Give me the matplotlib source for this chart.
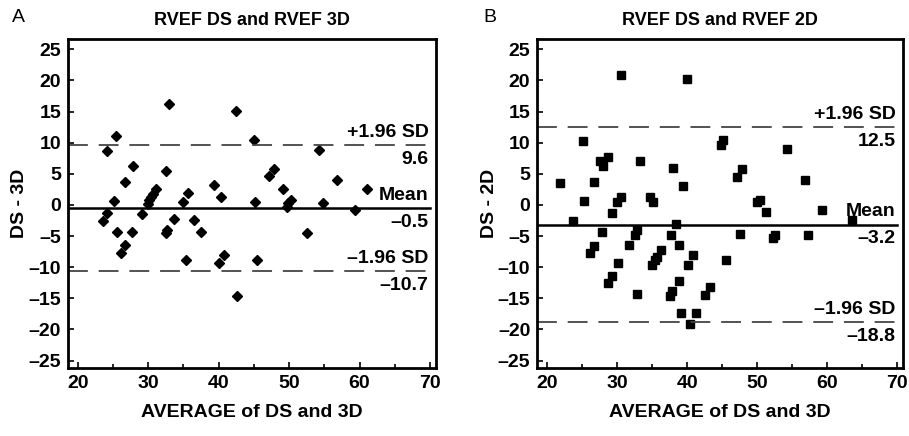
import matplotlib
matplotlib.use("Agg")
import matplotlib.pyplot as plt
from matplotlib.ticker import MultipleLocator

# panel A: RVEF DS vs 3D (average, difference)
a_avg = [23.5, 24.1, 24.1, 25.4, 25.2, 25.6, 26.1, 26.7, 26.7, 27.8, 27.7, 29.1,
         29.9, 30.1, 30.4, 30.6, 31.1, 32.5, 32.9, 32.5, 32.7, 33.6, 35.0, 35.7,
         35.4, 36.5, 37.5, 39.4, 40.3, 40.0, 40.8, 42.4, 42.6, 45.0, 45.2, 45.4,
         47.1, 47.8, 49.1, 49.7, 49.9, 50.2, 52.5, 54.3, 54.8, 56.8, 59.3, 61.1]
a_diff = [-2.6, -1.3, 8.7, 11.1, 0.6, -4.4, -7.7, -6.4, 3.7, 6.2, -4.3, -1.4,
          0.2, 0.8, 1.3, 1.8, 2.6, 5.4, 16.2, -4.5, -4.0, -2.3, 0.5, 1.9,
          -8.9, -2.4, -4.4, 3.2, 1.2, -9.4, -8.0, 15.1, -14.6, 10.4, 0.5, -8.8,
          4.6, 5.8, 2.5, -0.3, 0.3, 0.8, -4.5, 8.8, 0.3, 4.0, -0.9, 2.6]
a_mean, a_hi, a_lo = -0.5, 9.6, -10.7

# panel B: RVEF DS vs 2D
b_avg = [21.8, 23.7, 25.2, 25.3, 26.2, 26.7, 26.7, 27.6, 28.0, 28.7, 27.8, 28.7,
         29.3, 29.3, 30.0, 30.5, 30.2, 30.5, 31.7, 32.6, 32.9, 32.8, 33.3, 34.7,
         35.1, 35.0, 35.4, 35.7, 36.3, 37.7, 38.4, 38.0, 37.6, 37.9, 38.9, 38.9,
         39.1, 39.4, 40.0, 40.1, 40.9, 40.4, 41.3, 42.6, 43.3, 44.8, 45.1, 45.5,
         47.1, 47.8, 47.6, 50.0, 50.4, 51.3, 52.2, 52.5, 54.3, 56.8, 57.3, 59.3, 63.6]
b_diff = [3.5, -2.6, 10.2, 0.6, -7.7, -6.6, 3.6, 7.1, 6.2, 7.7, -4.3, -12.6,
          -11.5, -1.3, 0.5, 1.2, -9.4, 20.9, -6.4, -4.8, -4.0, -14.3, 7.0, 1.3,
          0.4, -9.6, -8.8, -8.3, -7.3, -4.8, -3.1, 6.0, -14.7, -13.9, -6.4, -12.3,
          -17.4, 3.1, 20.2, -9.6, -8.0, -19.1, -17.4, -14.5, -13.2, 9.6, 10.4, -8.9,
          4.5, 5.7, -4.6, 0.5, 0.8, -1.1, -5.4, -4.8, 9.0, 4.0, -4.8, -0.9, -2.4]
b_mean, b_hi, b_lo = -3.2, 12.5, -18.8

plt.rcParams.update({"font.family": ["Liberation Sans", "DejaVu Sans"], "font.size": 13,
                     "font.weight": "bold", "axes.titleweight": "bold",
                     "axes.labelweight": "bold"})

fig = plt.figure(figsize=(9.09, 4.36), dpi=100)
axA = fig.add_axes([0.0748, 0.156, 0.4048, 0.7546])
axB = fig.add_axes([0.591, 0.156, 0.4026, 0.7546])


def bland(ax, x, y, mean, hi, lo, marker, ms, title, ylab):
    ax.plot(x, y, marker, color="black", ms=ms, ls="none")
    ax.plot([18.6, 70], [mean, mean], color="black", lw=1.8)
    for v in (hi, lo):
        ax.plot([18.6, 70], [v, v], color="#444444", lw=1.3, dashes=(11, 6))
    tk = dict(ha="right", fontsize=14)
    ax.text(69.8, hi + 0.7, "+1.96 SD", va="bottom", **tk)
    ax.text(69.8, hi - 0.9, f"{hi:.1f}", va="top", **tk)
    ax.text(69.8, mean + 0.7, "Mean", va="bottom", **tk)
    ax.text(69.8, mean - 0.9, f"\u2013{abs(mean):.1f}", va="top", **tk)
    ax.text(69.8, lo + 0.7, "\u20131.96 SD", va="bottom", **tk)
    ax.text(69.8, lo - 0.9, f"\u2013{abs(lo):.1f}", va="top", **tk)
    ax.set_xlim(18.6, 70.85)
    ax.set_ylim(-26.2, 26.65)
    ax.set_xticks(range(20, 71, 10))
    ax.xaxis.set_minor_locator(MultipleLocator(5))
    ax.set_yticks(range(-25, 26, 5))
    ax.set_yticklabels([str(v).replace("-", "\u2013") for v in range(-25, 26, 5)])
    ax.tick_params(direction="in", length=4, width=1.2, labelsize=14, pad=5)
    ax.tick_params(which="minor", direction="in", length=3, width=1.2)
    for s in ax.spines.values():
        s.set_linewidth(2)
    ax.set_title(title, fontsize=13, pad=10)
    ax.set_ylabel(ylab, fontsize=14, labelpad=0)
    ax.set_xlabel("AVERAGE of DS and 3D", fontsize=14, labelpad=9)


bland(axA, a_avg, a_diff, a_mean, a_hi, a_lo, "D", 4.6, "RVEF DS and RVEF 3D", "DS - 3D")
bland(axB, b_avg, b_diff, b_mean, b_hi, b_lo, "s", 5.8, "RVEF DS and RVEF 2D", "DS - 2D")

fig.text(0.013, 0.96, "A", fontsize=14, va="center", fontweight="normal")
fig.text(0.532, 0.96, "B", fontsize=14, va="center", fontweight="normal")

fig.savefig("out.png", dpi=100)
